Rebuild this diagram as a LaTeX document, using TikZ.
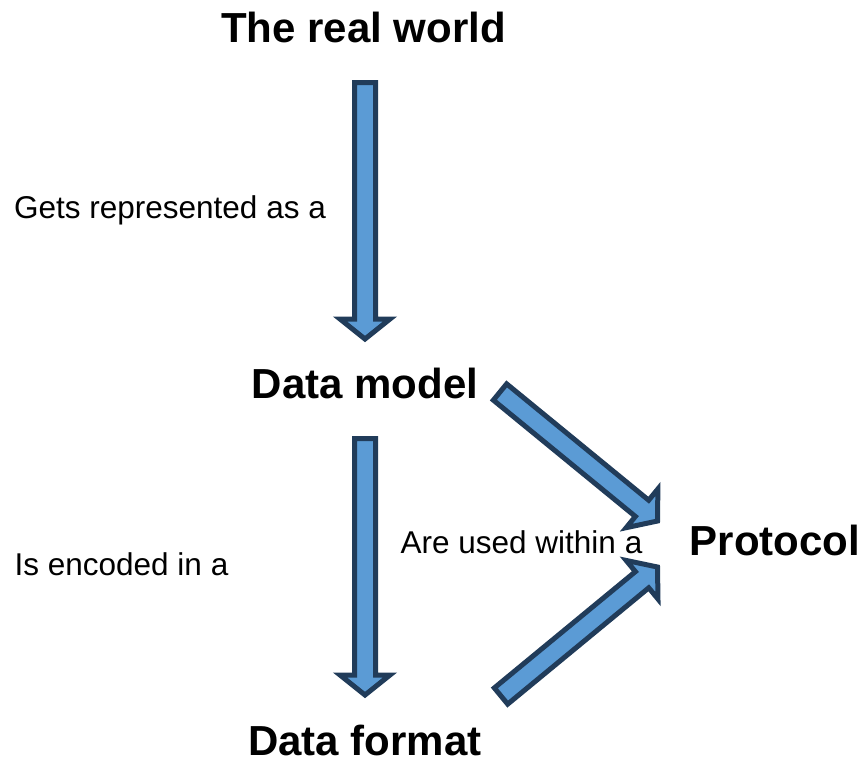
\documentclass[tikz,border=0pt]{standalone}
\usepackage{fontspec}
\setmainfont{Liberation Sans}
\usetikzlibrary{calc}

\definecolor{arrowfill}{RGB}{91,155,213}
\definecolor{arrowline}{RGB}{33,60,90}

% block arrow from tail #1 to tip #2
\newcommand\blockarrow[2]{%
  \coordinate (hb) at ($(#2)!20pt!(#1)$);
  \filldraw[block] ($(#1)!10.5pt!90:(#2)$) -- ($(hb)!10.5pt!90:(#2)$) -- ($(hb)!25pt!90:(#2)$)
    -- (#2) -- ($(hb)!25pt!-90:(#2)$) -- ($(hb)!10.5pt!-90:(#2)$) -- ($(#1)!10.5pt!-90:(#2)$) -- cycle;
}

\begin{document}
\begin{tikzpicture}[x=1pt,y=-1pt,
  block/.style={fill=arrowfill,draw=arrowline,line width=5pt},
  title/.style={inner sep=0pt,anchor=base,font=\fontsize{42}{50}\selectfont\bfseries},
  note/.style={inner sep=0pt,anchor=base,font=\fontsize{31.5}{38}\selectfont}]
\useasboundingbox (0,0) rectangle (866,761);

% Labels
\node[title] (world) at (363.5,42) {The real world};
\node[title] (model) at (365,398) {Data model};
\node[title] (format) at (365,755) {Data format};
\node[title] (protocol) at (775,555) {Protocol};
\node[note] (gets) at (170,218) {Gets represented as a};
\node[note] (encoded) at (121.5,575) {Is encoded in a};
\node[note] (used) at (521.5,553) {Are used within a};

% Arrow ends
\coordinate (world-out) at (365,82.5);
\coordinate (model-in) at (365,339);
\coordinate (model-down) at (365,438.5);
\coordinate (format-in) at (365,695);
\coordinate (model-side) at (500,392);
\coordinate (protocol-top) at (657.5,521);
\coordinate (format-side) at (501,696);
\coordinate (protocol-bottom) at (657.5,567);

\blockarrow{world-out}{model-in}
\blockarrow{model-down}{format-in}
\blockarrow{model-side}{protocol-top}
\blockarrow{format-side}{protocol-bottom}
\end{tikzpicture}
\end{document}
